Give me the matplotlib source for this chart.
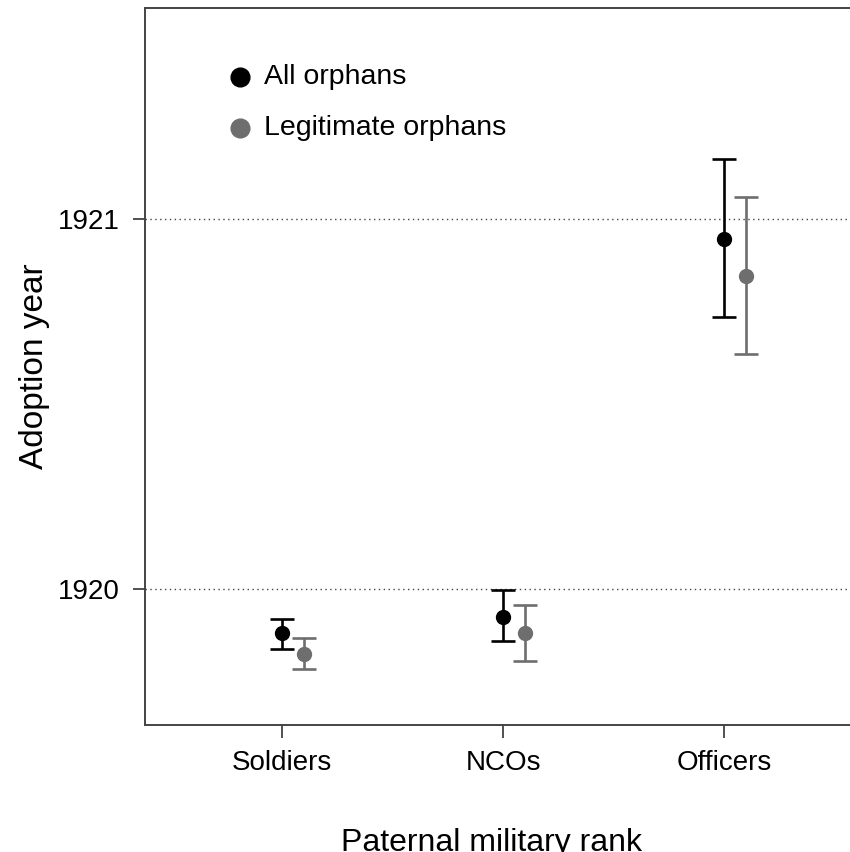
import numpy as np
import matplotlib.pyplot as plt

plt.rc('font', family=['Liberation Sans', 'DejaVu Sans'])

ranks = ['Soldiers', 'NCOs', 'Officers']

# all orphans: mean, lower, upper
all_mean = [1919.882, 1919.925, 1920.945]
all_lo = [1919.838, 1919.858, 1920.734]
all_hi = [1919.919, 1919.997, 1921.162]

# legitimate orphans
leg_mean = [1919.824, 1919.882, 1920.846]
leg_lo = [1919.783, 1919.805, 1920.635]
leg_hi = [1919.868, 1919.957, 1921.059]

fig = plt.figure(figsize=(8.5, 8.52), dpi=100)
ax = fig.add_axes([145 / 850, 127 / 852, 1 - 145 / 850, 717 / 852])

x = np.arange(1, len(ranks) + 1)
gray = '#6e6e6e'

for xs, m, lo, hi, col in [(x, all_mean, all_lo, all_hi, 'black'),
                           (x + 0.1, leg_mean, leg_lo, leg_hi, gray)]:
    m = np.array(m)
    err = [m - np.array(lo), np.array(hi) - m]
    ax.errorbar(xs, m, yerr=err, fmt='o', color=col, ecolor=col,
                markersize=10, elinewidth=1.9, capsize=8.5, capthick=1.9, zorder=3)

for yv in [1920, 1921]:
    ax.axhline(yv, color='#444444', linestyle=(0, (1, 2.5)), linewidth=1, zorder=1)

# legend drawn by hand like the base-R original
ax.plot([0.81], [1921.384], 'o', color='black', markersize=13.5)
ax.plot([0.81], [1921.246], 'o', color=gray, markersize=13.5)
ax.text(0.92, 1921.384, 'All orphans', fontsize=20.5, va='center', ha='left')
ax.text(0.92, 1921.246, 'Legitimate orphans', fontsize=20.5, va='center', ha='left')

ax.set_xlim(0.38, 3.57)
ax.set_ylim(1919.632, 1921.570)
ax.set_xticks(x)
ax.set_xticklabels(ranks)
ax.set_yticks([1920, 1921])

ax.tick_params(axis='both', direction='out', length=9, width=1.2, color='#333333',
               labelsize=20, pad=9)
for side in ['left', 'bottom', 'top']:
    ax.spines[side].set_color('#444444')
    ax.spines[side].set_linewidth(1.4)
ax.spines['right'].set_visible(False)

ax.set_xlabel('Paternal military rank', fontsize=23)
ax.xaxis.set_label_coords(0.491, -0.143)
ax.set_ylabel('Adoption year', fontsize=24)
ax.yaxis.set_label_coords(-0.135, 0.5)

fig.savefig('out.png', dpi=100)
